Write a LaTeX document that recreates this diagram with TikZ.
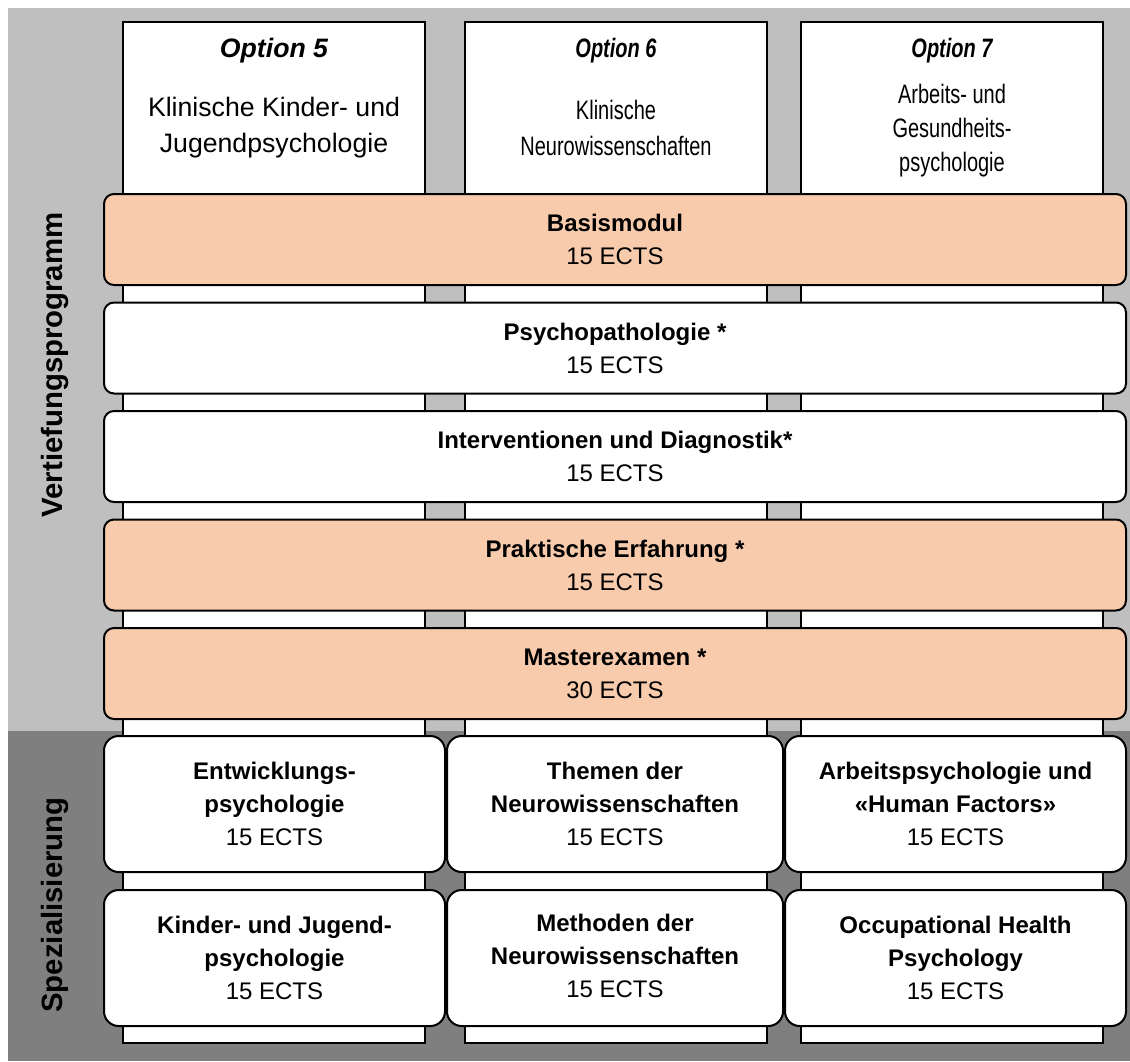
\documentclass[tikz,border=0pt]{standalone}
\usepackage{fontspec}
\usepackage{graphicx}
\setmainfont{Liberation Sans}
\newcommand{\narrowtxt}[1]{\scalebox{0.75}[1]{#1}}
\definecolor{bglight}{HTML}{BFBFBF}
\definecolor{bgdark}{HTML}{7F7F7F}
\definecolor{peach}{HTML}{F8CBAD}
\begin{document}
\begin{tikzpicture}[x=0.75pt,y=-0.75pt,
  colbox/.style={draw, line width=1.5pt, fill=white, minimum width=226.5pt, minimum height=765.75pt, inner sep=0pt},
  wide/.style={draw, line width=1.5pt, rounded corners=7.5pt, minimum width=766.5pt, minimum height=68.25pt, inner sep=0pt, align=center, font=\fontsize{18}{24.75}\selectfont},
  spez/.style={draw, line width=1.5pt, fill=white, rounded corners=11pt, minimum height=102pt, inner sep=0pt, align=center, font=\fontsize{18}{24.75}\selectfont},
  toptxt/.style={inner sep=0pt, align=center, font=\fontsize{20}{27}\selectfont},
  vlabel/.style={inner sep=0pt, rotate=90, anchor=base, font=\bfseries\fontsize{22}{26}\selectfont}
]
\useasboundingbox (0,0) rectangle (1130,1061);
% backgrounds
\fill[bglight] (8,8) rectangle (1130,731);
\fill[bgdark] (8,731) rectangle (1130,1061);
% columns
\node[colbox] (col1) at (274,532.5) {};
\node[colbox] (col2) at (616,532.5) {};
\node[colbox] (col3) at (952,532.5) {};
% column headers
\node[toptxt] (o5) at (274,51) {\bfseries\itshape Option 5};
\node[toptxt] (t5) at (274,128) {Klinische Kinder- und\\Jugendpsychologie};
\node[toptxt] (o6) at (616,50.6) {\narrowtxt{\bfseries\itshape Option 6}};
\node[toptxt] (t6) at (616,130) {\narrowtxt{\begin{tabular}{@{}c@{}}Klinische\\Neurowissenschaften\end{tabular}}};
\node[toptxt] (o7) at (952,50.6) {\narrowtxt{\bfseries\itshape Option 7}};
\node[toptxt, font=\fontsize{20}{25.5}\selectfont] (t7) at (952,130.2) {\narrowtxt{\begin{tabular}{@{}c@{}}Arbeits- und\\Gesundheits-\\psychologie\end{tabular}}};
% rows
\node[wide, fill=peach] (basis) at (615,239.5) {\textbf{Basismodul}\\15 ECTS};
\node[wide, fill=white] (psy) at (615,348) {\textbf{Psychopathologie *}\\15 ECTS};
\node[wide, fill=white] (int) at (615,456.5) {\textbf{Interventionen und Diagnostik*}\\15 ECTS};
\node[wide, fill=peach] (prak) at (615,565) {\textbf{Praktische Erfahrung *}\\15 ECTS};
\node[wide, fill=peach] (master) at (615,673.5) {\textbf{Masterexamen *}\\30 ECTS};
% specialisation
\node[spez, minimum width=255.75pt] (s1a) at (274.5,804) {\textbf{Entwicklungs-}\\\textbf{psychologie}\\15 ECTS};
\node[spez, minimum width=252pt] (s2a) at (615,804) {\textbf{Themen der}\\\textbf{Neurowissenschaften}\\15 ECTS};
\node[spez, minimum width=255.75pt] (s3a) at (955.5,804) {\textbf{Arbeitspsychologie und}\\\textbf{«Human Factors»}\\15 ECTS};
\node[spez, minimum width=255.75pt] (s1b) at (274.5,958) {\textbf{Kinder- und Jugend-}\\\textbf{psychologie}\\15 ECTS};
\node[spez, minimum width=252pt] (s2b) at (615,958) {\raisebox{2.25pt}{\begin{tabular}{@{}c@{}}\textbf{Methoden der}\\\textbf{Neurowissenschaften}\\15 ECTS\end{tabular}}};
\node[spez, minimum width=255.75pt] (s3b) at (955.5,958) {\textbf{Occupational Health}\\\textbf{Psychology}\\15 ECTS};
% side labels
\node[vlabel] (vp) at (62,365) {Vertiefungsprogramm};
\node[vlabel] (sp) at (62,905) {Spezialisierung};
\end{tikzpicture}
\end{document}
